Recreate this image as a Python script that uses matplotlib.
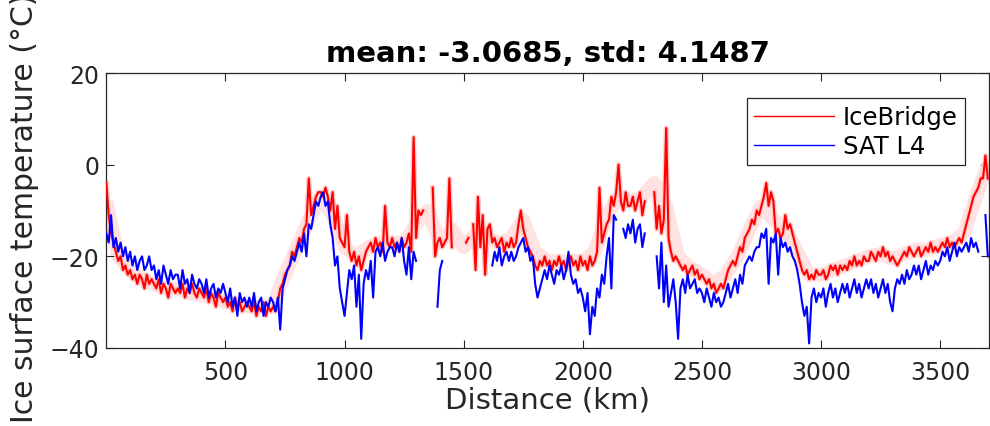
import numpy as np
import matplotlib
matplotlib.use("Agg")
import matplotlib.pyplot as plt

nan = np.nan

# Distance grid (km) of the along-track samples
dist = np.arange(0, 3701, 10)

# IceBridge surface temperature (deg C), one row per 100 km
icebridge = [
    -4, -11, -15, -17, -19, -21, -20, -23, -22, -24,
    -23, -25, -24, -26, -24, -25, -27, -24, -26, -25,
    -26, -27, -25, -28, -26, -27, -29, -26, -27, -28,
    -27, -28, -26, -29, -27, -28, -26, -28, -29, -27,
    -28, -29, -27, -30, -28, -29, -31, -28, -29, -30,
    -29, -31, -30, -32, -29, -31, -30, -32, -31, -30,
    -31, -32, -30, -33, -31, -32, -30, -33, -31, -32,
    -31, -32, -30, -27, -26, -24, -23, -22, -19, -20,
    -18, -16, -17, -14, -13, -3, -11, -9, -7, -6,
    -6, -7, -5, -7, -10, -6, -14, -9, -16, -17,
    -18, -11, -19, -21, -19, -22, -20, -23, -21, -19,
    -18, -17, -19, -16, -18, -17, -19, -9, -17, -18,
    -16, -18, -17, -19, -16, -18, -17, -15, -19, 6,
    -16, -10, -11, -10, nan, nan, nan, -5, -20, -17,
    -16, -18, -17, -16, -3, -18, nan, nan, nan, nan,
    nan, -17, -16, nan, -13, -23, -7, -18, -11, -24,
    -14, -13, -17, -16, -18, -17, -16, -19, -17, -18,
    -16, -18, -17, -13, -10, -14, -16, -18, -19, -20,
    -22, -23, -21, -22, -20, -22, -21, -23, -21, -22,
    -20, -22, -21, -23, -21, -20, -22, -21, -23, -20,
    -22, -21, -23, -20, -22, -21, -19, -5, -17, -15,
    -13, -12, -7, -9, -6, 0, -8, -10, -6, -9,
    -9, -7, -10, -8, -6, -11, -8, nan, nan, nan,
    -6, -14, -9, -15, -12, 8, -16, -19, -21, -20,
    -21, -22, -23, -22, -24, -23, -22, -24, -23, -25,
    -24, -25, -26, -25, -27, -26, -28, -27, -26, -27,
    -25, -23, -22, -21, -22, -20, -18, -19, -16, -15,
    -14, -12, -13, -10, -11, -9, -7, -4, -9, -6,
    -8, -15, -14, -16, -15, -11, -14, -13, -15, -17,
    -19, -21, -23, -24, -23, -25, -24, -25, -23, -24,
    -24, -23, -25, -24, -22, -23, -22, -24, -22, -23,
    -22, -23, -21, -22, -20, -22, -21, -22, -20, -21,
    -21, -19, -20, -21, -19, -20, -18, -20, -19, -21,
    -20, -21, -22, -21, -20, -19, -20, -18, -19, -20,
    -19, -18, -20, -19, -18, -19, -17, -19, -18, -19,
    -18, -17, -18, -16, -18, -17, -18, -17, -16, -17,
    -15, -13, -11, -9, -7, -6, -5, -3, -3, 2, -3,
]

# SAT L4 surface temperature (deg C), one row per 100 km
sat_l4 = [
    -15, -17, -11, -18, -16, -19, -17, -20, -18, -21,
    -19, -22, -20, -23, -21, -20, -23, -22, -20, -23,
    -22, -25, -23, -26, -22, -24, -26, -23, -25, -24,
    -24, -27, -23, -26, -25, -28, -24, -26, -27, -25,
    -26, -28, -25, -29, -27, -26, -29, -27, -28, -26,
    -28, -30, -27, -31, -29, -33, -28, -30, -29, -31,
    -29, -31, -28, -32, -30, -29, -33, -30, -31, -29,
    -30, -32, -29, -36, -27, -25, -23, -22, -20, -21,
    -19, -17, -19, -15, -20, -13, -14, -11, -8, -9,
    -7, -6, -9, -8, -13, -16, -22, -20, -27, -30,
    -33, -28, -23, -25, -22, -31, -24, -38, -26, -23,
    -25, -21, -29, -19, -18, -20, -17, -21, -19, -18,
    -18, -20, -17, -19, -16, -21, -24, -18, -25, -19,
    -21, nan, nan, nan, nan, nan, nan, nan, nan, -31,
    -23, -21, nan, nan, nan, nan, nan, nan, nan, nan,
    nan, nan, nan, nan, nan, nan, nan, nan, nan, nan,
    nan, nan, -22, -19, -21, -18, -22, -20, -19, -21,
    -19, -21, -20, -18, -17, -16, -19, -18, -21, -20,
    -26, -29, -27, -25, -23, -25, -22, -24, -26, -23,
    -24, -22, -25, -23, -19, -24, -26, -25, -28, -27,
    -29, -32, -28, -37, -31, -33, -27, -29, -24, -26,
    -20, -16, -27, -11, -12, nan, nan, -14, -16, -13,
    -15, -12, -17, -14, -13, -18, -15, nan, nan, nan,
    nan, -20, -27, -17, -30, -22, -31, -28, -25, -30,
    -38, -27, -25, -28, -24, -27, -26, -25, -28, -27,
    -28, -30, -27, -29, -31, -28, -30, -29, -31, -30,
    -28, -26, -29, -27, -25, -28, -24, -26, -22, -21,
    -20, -21, -19, -18, -18, -15, -16, -14, -26, -16,
    -17, -15, -24, -16, -18, -17, -19, -18, -20, -21,
    -23, -26, -30, -33, -31, -39, -29, -27, -30, -28,
    -29, -27, -31, -28, -26, -29, -27, -30, -28, -26,
    -28, -26, -29, -27, -25, -28, -26, -29, -27, -25,
    -27, -25, -28, -26, -29, -27, -25, -28, -26, -30,
    -32, -27, -25, -26, -24, -26, -23, -25, -24, -22,
    -24, -22, -25, -23, -21, -24, -22, -23, -21, -22,
    -21, -19, -20, -18, -21, -19, -17, -20, -18, -19,
    -18, -17, -19, -16, -18, -17, -19, nan, nan, -11, -20,
]

# Smoothed IceBridge envelope (light band), every 50 km
band_dist = np.arange(0, 3701, 50)
icebridge_band = [
    -8, -20, -23, -25, -26, -27, -27, -28, -28.5, -29,
    -30, -30.5, -31, -31, -30.5, -24, -18, -12, -7, -11,
    -18, -20, -18, -17, -17, -17, -13, -10, -17, -14,
    -18, -15, -16, -17, -16, -12, -19, -21, -21, -21,
    -21, -19, -11, -7, -8, -7, -4, -9, -20, -22.5,
    -24, -26, -24, -20, -14, -9, -12, -14, -19, -24,
    -24, -23, -22, -21, -20, -19.5, -20.5, -19.5, -18.5, -18.5,
    -17.5, -17, -15, -7, 0,
]

title_text = "mean: -3.0685, std: 4.1487"
xlabel_text = "Distance (km)"
ylabel_text = "Ice surface temperature (\u00b0C)"
legend_labels = ["IceBridge", "SAT L4"]
xticks = [500, 1000, 1500, 2000, 2500, 3000, 3500]
yticks = [-40, -20, 0, 20]

plt.rcParams['font.family'] = ['DejaVu Sans']

fig = plt.figure(figsize=(9.9, 4.27), dpi=100)
ax = fig.add_axes([106.3 / 990, 1 - 349 / 427, (989 - 106.3) / 990, 275 / 427])

ax.plot(band_dist, icebridge_band, color='#ffe2e2', lw=10, solid_capstyle='butt',
        solid_joinstyle='round', zorder=1)
ax.plot(dist, icebridge, color='#ffcaca', lw=3.5, zorder=2)
l1, = ax.plot(dist, icebridge, color='#ff0000', lw=1.5, zorder=3, label=legend_labels[0])
l2, = ax.plot(dist, sat_l4, color='#0000ff', lw=1.5, zorder=4, label=legend_labels[1])

ax.set_xlim(0, 3705)
ax.set_ylim(-40, 20)
ax.set_xticks(xticks)
ax.set_yticks(yticks)
ax.tick_params(axis='both', which='both', direction='in', length=6, width=0.8,
               top=True, right=True, labelsize=17, colors='#262626')
ax.tick_params(axis='x', pad=9)
ax.tick_params(axis='y', pad=5)
for s in ax.spines.values():
    s.set_color('#262626')
    s.set_linewidth(0.9)

ax.set_title(title_text, fontsize=21, fontweight='bold', pad=9)
ax.set_xlabel(xlabel_text, fontsize=21, color='#262626', labelpad=1)
fig.text(25 / 990, 4 / 427, ylabel_text, rotation=90, ha='center', va='bottom',
         fontsize=21.5, color='#262626')

leg = ax.legend(handles=[l1, l2], loc='upper right',
                bbox_to_anchor=((965 - 106.3) / 882.7, (349 - 99) / 275),
                borderaxespad=0, fontsize=17.5, handlelength=3.3, handletextpad=0.35,
                borderpad=0.3, labelspacing=0.2, fancybox=False, framealpha=1,
                edgecolor='#262626')
leg.get_frame().set_linewidth(0.9)
for h in leg.get_lines():
    h.set_linewidth(1.0)

fig.savefig('out.png', dpi=100)
